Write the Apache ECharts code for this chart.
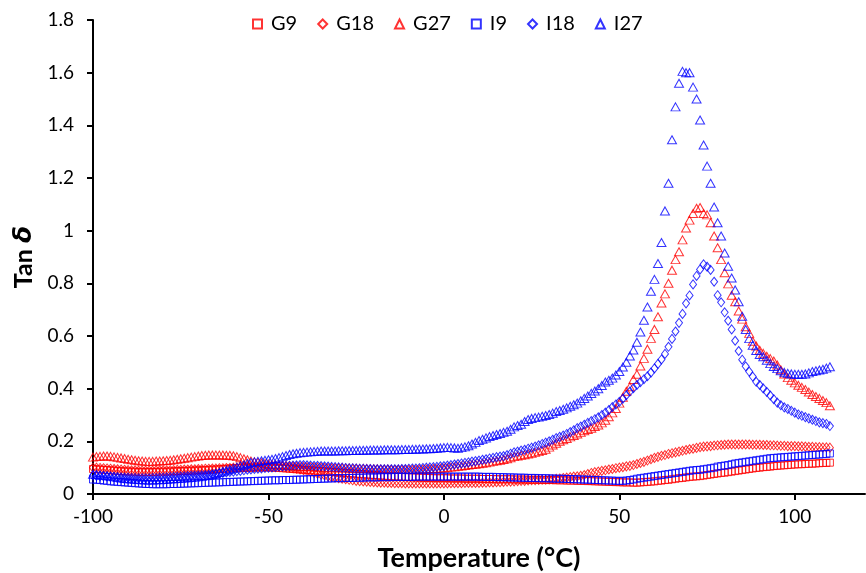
<!DOCTYPE html>
<html>
<head>
<meta charset="utf-8">
<script src="https://cdn.jsdelivr.net/npm/echarts@6/dist/echarts.min.js"></script>
<style>
html,body{margin:0;padding:0;background:#fff;}
#chart{width:866px;height:573px;}
</style>
</head>
<body>
<div id="chart"></div>
<script>
const temps = [
-100,-99,-98,-97,-96,-95,-94,-93,-92,-91,
-90,-89,-88,-87,-86,-85,-84,-83,-82,-81,
-80,-79,-78,-77,-76,-75,-74,-73,-72,-71,
-70,-69,-68,-67,-66,-65,-64,-63,-62,-61,
-60,-59,-58,-57,-56,-55,-54,-53,-52,-51,
-50,-49,-48,-47,-46,-45,-44,-43,-42,-41,
-40,-39,-38,-37,-36,-35,-34,-33,-32,-31,
-30,-29,-28,-27,-26,-25,-24,-23,-22,-21,
-20,-19,-18,-17,-16,-15,-14,-13,-12,-11,
-10,-9,-8,-7,-6,-5,-4,-3,-2,-1,
0,1,2,3,4,5,6,7,8,9,
10,11,12,13,14,15,16,17,18,19,
20,21,22,23,24,25,26,27,28,29,
30,31,32,33,34,35,36,37,38,39,
40,41,42,43,44,45,46,47,48,49,
50,51,52,53,54,55,56,57,58,59,
60,61,62,63,64,65,66,67,68,69,
70,71,72,73,74,75,76,77,78,79,
80,81,82,83,84,85,86,87,88,89,
90,91,92,93,94,95,96,97,98,99,
100,101,102,103,104,105,106,107,108,109,110];

const G9 = [
0.095,0.094,0.093,0.092,0.091,0.09,0.089,0.088,0.087,0.086,
0.086,0.085,0.085,0.084,0.084,0.084,0.084,0.084,0.084,0.085,
0.085,0.085,0.086,0.086,0.087,0.087,0.088,0.088,0.089,0.089,
0.09,0.09,0.091,0.092,0.093,0.093,0.094,0.095,0.096,0.097,
0.098,0.098,0.099,0.1,0.1,0.1,0.101,0.101,0.101,0.101,
0.101,0.1,0.1,0.099,0.098,0.097,0.096,0.095,0.094,0.093,
0.092,0.091,0.09,0.089,0.088,0.087,0.086,0.085,0.084,0.083,
0.082,0.081,0.08,0.079,0.078,0.077,0.076,0.075,0.074,0.073,
0.072,0.071,0.07,0.069,0.068,0.067,0.066,0.066,0.065,0.064,
0.064,0.063,0.063,0.062,0.062,0.061,0.061,0.06,0.06,0.06,
0.06,0.06,0.059,0.059,0.059,0.059,0.058,0.058,0.058,0.058,
0.058,0.057,0.057,0.057,0.057,0.056,0.056,0.056,0.056,0.056,
0.055,0.055,0.055,0.055,0.054,0.054,0.054,0.054,0.053,0.053,
0.053,0.053,0.052,0.052,0.052,0.051,0.051,0.051,0.05,0.05,
0.05,0.049,0.049,0.048,0.048,0.047,0.047,0.046,0.046,0.045,
0.045,0.044,0.044,0.044,0.043,0.043,0.044,0.045,0.046,0.047,
0.048,0.05,0.051,0.053,0.054,0.056,0.058,0.06,0.061,0.063,
0.065,0.066,0.067,0.068,0.07,0.072,0.074,0.076,0.078,0.08,
0.081,0.083,0.085,0.087,0.089,0.091,0.093,0.095,0.097,0.099,
0.1,0.102,0.103,0.104,0.106,0.107,0.108,0.109,0.11,0.111,
0.112,0.113,0.113,0.114,0.115,0.115,0.116,0.117,0.118,0.118,0.119];

const G18 = [
0.1,0.1,0.099,0.098,0.097,0.096,0.095,0.094,0.093,0.092,
0.091,0.09,0.09,0.089,0.089,0.089,0.089,0.089,0.09,0.09,
0.09,0.09,0.091,0.091,0.092,0.092,0.093,0.093,0.094,0.094,
0.095,0.095,0.096,0.096,0.097,0.097,0.098,0.098,0.099,0.099,
0.1,0.1,0.101,0.101,0.102,0.102,0.103,0.103,0.104,0.104,
0.105,0.105,0.105,0.104,0.103,0.102,0.1,0.098,0.096,0.093,
0.09,0.087,0.084,0.08,0.077,0.073,0.07,0.067,0.064,0.062,
0.06,0.058,0.056,0.054,0.052,0.05,0.049,0.048,0.047,0.046,
0.045,0.044,0.043,0.043,0.042,0.042,0.041,0.041,0.041,0.04,
0.04,0.04,0.04,0.04,0.04,0.04,0.04,0.04,0.04,0.04,
0.04,0.04,0.041,0.041,0.041,0.041,0.042,0.042,0.042,0.042,
0.042,0.043,0.043,0.044,0.044,0.045,0.045,0.046,0.047,0.047,
0.048,0.049,0.05,0.05,0.051,0.052,0.052,0.053,0.054,0.054,
0.055,0.056,0.058,0.059,0.061,0.062,0.064,0.066,0.067,0.069,
0.072,0.076,0.08,0.083,0.085,0.088,0.09,0.093,0.095,0.098,
0.1,0.102,0.105,0.107,0.11,0.114,0.118,0.122,0.127,0.132,
0.137,0.141,0.145,0.148,0.152,0.155,0.158,0.161,0.164,0.167,
0.17,0.172,0.175,0.178,0.18,0.181,0.182,0.184,0.185,0.186,
0.187,0.188,0.188,0.188,0.188,0.188,0.188,0.188,0.187,0.187,
0.187,0.186,0.186,0.185,0.185,0.184,0.183,0.183,0.182,0.182,
0.182,0.181,0.181,0.18,0.179,0.179,0.178,0.178,0.177,0.177,0.176];

const G27 = [
0.14,0.142,0.143,0.144,0.144,0.143,0.141,0.139,0.137,0.135,
0.132,0.13,0.128,0.126,0.125,0.124,0.124,0.124,0.125,0.125,
0.126,0.127,0.128,0.13,0.132,0.134,0.136,0.138,0.14,0.142,
0.144,0.146,0.147,0.148,0.148,0.148,0.148,0.148,0.147,0.147,
0.145,0.142,0.138,0.134,0.13,0.125,0.122,0.12,0.118,0.116,
0.114,0.113,0.112,0.111,0.11,0.109,0.108,0.107,0.106,0.105,
0.104,0.104,0.103,0.103,0.102,0.102,0.101,0.101,0.1,0.1,
0.1,0.1,0.099,0.099,0.098,0.098,0.097,0.097,0.097,0.096,
0.096,0.096,0.095,0.095,0.095,0.094,0.094,0.094,0.094,0.094,
0.094,0.094,0.094,0.095,0.095,0.095,0.096,0.097,0.097,0.098,
0.099,0.1,0.102,0.103,0.105,0.106,0.108,0.11,0.112,0.113,
0.115,0.117,0.119,0.121,0.124,0.126,0.128,0.131,0.134,0.138,
0.142,0.144,0.147,0.149,0.152,0.155,0.158,0.161,0.165,0.17,
0.178,0.186,0.193,0.2,0.206,0.211,0.217,0.222,0.228,0.234,
0.24,0.245,0.25,0.256,0.262,0.27,0.28,0.293,0.308,0.325,
0.345,0.367,0.39,0.407,0.435,0.455,0.486,0.515,0.55,0.591,
0.625,0.673,0.725,0.76,0.8,0.85,0.89,0.92,0.965,1.01,
1.04,1.065,1.085,1.088,1.065,1.06,1.03,0.98,0.935,0.89,
0.84,0.798,0.755,0.73,0.695,0.664,0.635,0.61,0.58,0.562,
0.546,0.534,0.523,0.514,0.505,0.49,0.472,0.456,0.442,0.432,
0.422,0.413,0.405,0.397,0.387,0.378,0.37,0.363,0.355,0.347,0.335];

const I9 = [
0.055,0.054,0.053,0.051,0.05,0.048,0.047,0.046,0.045,0.044,
0.043,0.042,0.041,0.04,0.039,0.038,0.038,0.037,0.037,0.037,
0.037,0.037,0.038,0.038,0.038,0.039,0.039,0.04,0.04,0.041,
0.041,0.042,0.042,0.043,0.043,0.044,0.044,0.045,0.045,0.046,
0.046,0.047,0.047,0.048,0.048,0.049,0.049,0.05,0.05,0.051,
0.051,0.052,0.052,0.052,0.053,0.053,0.053,0.054,0.054,0.055,
0.055,0.056,0.056,0.057,0.057,0.058,0.058,0.059,0.059,0.06,
0.06,0.06,0.061,0.061,0.061,0.062,0.062,0.062,0.063,0.063,
0.063,0.063,0.064,0.064,0.064,0.064,0.065,0.065,0.065,0.065,
0.065,0.065,0.066,0.066,0.066,0.066,0.066,0.066,0.066,0.066,
0.066,0.066,0.066,0.066,0.066,0.066,0.066,0.066,0.066,0.066,
0.066,0.065,0.065,0.065,0.065,0.064,0.064,0.064,0.063,0.063,
0.063,0.062,0.062,0.062,0.061,0.061,0.061,0.06,0.06,0.06,
0.059,0.059,0.058,0.058,0.058,0.057,0.057,0.056,0.056,0.055,
0.055,0.054,0.054,0.053,0.053,0.052,0.052,0.051,0.051,0.05,
0.05,0.05,0.051,0.053,0.055,0.058,0.06,0.062,0.064,0.066,
0.068,0.07,0.072,0.074,0.076,0.078,0.08,0.082,0.084,0.086,
0.088,0.09,0.091,0.092,0.094,0.096,0.098,0.1,0.104,0.106,
0.108,0.11,0.113,0.116,0.118,0.12,0.122,0.124,0.126,0.128,
0.13,0.132,0.134,0.136,0.137,0.138,0.139,0.14,0.141,0.142,
0.143,0.144,0.145,0.146,0.147,0.148,0.149,0.15,0.151,0.152,0.154];

const I18 = [
0.07,0.069,0.068,0.068,0.067,0.066,0.065,0.064,0.063,0.062,
0.062,0.061,0.061,0.06,0.06,0.06,0.06,0.061,0.061,0.062,
0.062,0.063,0.064,0.065,0.065,0.066,0.067,0.068,0.069,0.07,
0.07,0.071,0.072,0.073,0.075,0.076,0.078,0.08,0.082,0.084,
0.085,0.087,0.088,0.09,0.092,0.093,0.095,0.096,0.097,0.099,
0.1,0.101,0.102,0.104,0.105,0.106,0.107,0.108,0.109,0.11,
0.11,0.109,0.108,0.107,0.107,0.106,0.105,0.104,0.103,0.102,
0.101,0.1,0.099,0.098,0.098,0.097,0.096,0.096,0.095,0.095,
0.094,0.094,0.094,0.094,0.094,0.094,0.094,0.094,0.095,0.095,
0.096,0.097,0.097,0.098,0.099,0.1,0.101,0.102,0.103,0.105,
0.106,0.108,0.11,0.112,0.114,0.116,0.118,0.12,0.123,0.125,
0.127,0.13,0.132,0.135,0.137,0.14,0.142,0.144,0.148,0.153,
0.158,0.161,0.165,0.168,0.172,0.176,0.18,0.185,0.19,0.195,
0.2,0.206,0.212,0.217,0.222,0.228,0.235,0.242,0.25,0.256,
0.263,0.27,0.277,0.284,0.291,0.3,0.309,0.319,0.33,0.34,
0.35,0.362,0.375,0.389,0.402,0.414,0.425,0.436,0.447,0.461,
0.477,0.494,0.511,0.532,0.559,0.589,0.617,0.65,0.684,0.724,
0.754,0.796,0.828,0.853,0.872,0.863,0.851,0.806,0.755,0.728,
0.69,0.658,0.625,0.582,0.543,0.51,0.485,0.465,0.446,0.426,
0.414,0.401,0.388,0.374,0.36,0.347,0.337,0.329,0.323,0.316,
0.309,0.302,0.297,0.292,0.287,0.282,0.277,0.272,0.269,0.266,0.258];

const I27 = [
0.075,0.074,0.072,0.07,0.069,0.067,0.065,0.063,0.061,0.059,
0.058,0.057,0.056,0.055,0.054,0.053,0.053,0.053,0.054,0.054,
0.055,0.056,0.057,0.058,0.059,0.06,0.061,0.062,0.063,0.064,
0.065,0.067,0.069,0.071,0.074,0.078,0.082,0.086,0.09,0.094,
0.098,0.102,0.107,0.111,0.116,0.12,0.122,0.124,0.126,0.128,
0.13,0.132,0.135,0.138,0.142,0.146,0.15,0.153,0.155,0.157,
0.158,0.159,0.16,0.161,0.162,0.163,0.163,0.163,0.163,0.163,
0.164,0.164,0.164,0.165,0.165,0.165,0.166,0.166,0.166,0.167,
0.167,0.167,0.167,0.168,0.168,0.168,0.168,0.168,0.169,0.169,
0.169,0.17,0.17,0.171,0.171,0.172,0.172,0.173,0.174,0.175,
0.176,0.177,0.176,0.175,0.174,0.176,0.179,0.183,0.19,0.196,
0.203,0.208,0.213,0.218,0.222,0.226,0.23,0.234,0.238,0.246,
0.255,0.26,0.265,0.275,0.283,0.287,0.29,0.292,0.295,0.298,
0.302,0.307,0.313,0.317,0.322,0.327,0.333,0.339,0.345,0.354,
0.363,0.372,0.382,0.391,0.4,0.412,0.425,0.432,0.44,0.452,
0.465,0.482,0.5,0.524,0.547,0.576,0.615,0.66,0.71,0.77,
0.815,0.875,0.955,1.075,1.18,1.345,1.47,1.56,1.605,1.6,
1.6,1.545,1.5,1.42,1.325,1.245,1.18,1.09,1.03,0.98,
0.915,0.865,0.82,0.775,0.73,0.675,0.625,0.59,0.565,0.545,
0.53,0.521,0.508,0.495,0.484,0.476,0.468,0.462,0.458,0.456,
0.455,0.455,0.455,0.456,0.46,0.465,0.468,0.471,0.474,0.478,0.483];

const seriesNames = ['G9','G18','G27','I9','I18','I27'];
const seriesValues = [G9, G18, G27, I9, I18, I27];
const seriesColors = ['#FF0000','#FF0000','#FF0000','#0000FF','#0000FF','#0000FF'];
const seriesSymbols = ['rect','diamond','triangle','rect','diamond','triangle'];
const seriesSizes = [[7,7],[7,9],[9,8],[7,7],[7,9],[9,8]];
const xTicks = [-100,-50,0,50,100];

const FONT = 'Lato, "Open Sans", sans-serif';
const chart = echarts.init(document.getElementById('chart'), null, {renderer:'canvas'});

const series = seriesNames.map((name, k) => ({
  name: name,
  type: 'scatter',
  symbol: seriesSymbols[k],
  symbolSize: seriesSizes[k],
  itemStyle: {color: 'rgba(255,255,255,0)', borderColor: seriesColors[k], borderWidth: 1},
  emphasis: {disabled: true},
  data: temps.map((t, i) => [t, seriesValues[k][i]])
}));

chart.setOption({
  animation: false,
  backgroundColor: '#fff',
  grid: {left: 93, right: 1, top: 20, bottom: 79, containLabel: false, outerBoundsMode: 'none'},
  legend: {
    data: seriesNames,
    top: 9, left: 247,
    itemWidth: 9, itemHeight: 9, itemGap: 20,
    textStyle: {fontSize: 20, fontFamily: FONT, color: '#000', padding: [0, 0, 0, 4]}
  },
  xAxis: {
    type: 'value', min: -100, max: 120, interval: 50,
    axisLine: {show: true, onZero: false, lineStyle: {color: '#000', width: 2}},
    axisTick: {show: true, inside: false, length: 6, customValues: xTicks, lineStyle: {color: '#000', width: 2}},
    axisLabel: {customValues: xTicks, margin: 13, fontSize: 19, fontFamily: FONT, color: '#000'},
    splitLine: {show: false},
    name: 'Temperature (°C)', nameLocation: 'middle', nameGap: 51,
    nameTextStyle: {fontSize: 27, fontWeight: 'bold', fontFamily: FONT, color: '#000'}
  },
  yAxis: {
    type: 'value', min: 0, max: 1.8, interval: 0.2,
    axisLine: {show: true, onZero: false, lineStyle: {color: '#000', width: 2}},
    axisTick: {show: true, inside: false, length: 6, lineStyle: {color: '#000', width: 2}},
    axisLabel: {margin: 19, fontSize: 19, fontFamily: FONT, color: '#000',
      formatter: v => String(Math.round(v * 10) / 10)},
    splitLine: {show: false},
    name: 'Tan {d|δ}', nameLocation: 'middle', nameGap: 54,
    nameTextStyle: {fontSize: 25, fontWeight: 'bold', fontFamily: FONT, color: '#000',
      rich: {d: {fontSize: 25, fontWeight: 'bold', fontStyle: 'italic', fontFamily: '"DejaVu Sans", sans-serif', color: '#000'}}}
  },
  series: series
});
</script>
</body>
</html>
